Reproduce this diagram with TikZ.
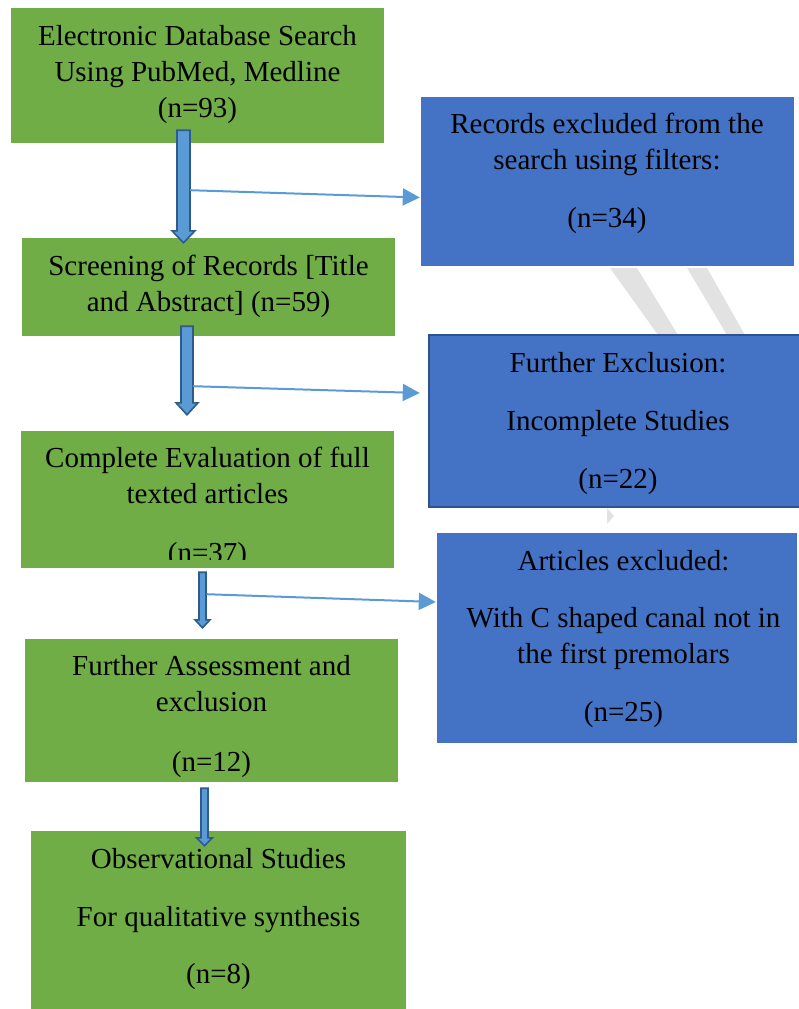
\documentclass[tikz,border=0pt]{standalone}
\usepackage{fontspec}
\setmainfont{Liberation Serif}
\usetikzlibrary{calc,arrows.meta}

\definecolor{inclgreen}{HTML}{70AD47}
\definecolor{exclblue}{HTML}{4472C4}
\definecolor{exclline}{HTML}{2F528F}
\definecolor{arrfill}{HTML}{5B9BD5}
\definecolor{arrline}{HTML}{2E5A8C}
\definecolor{wmark}{HTML}{E2E2E2}

% block arrow: top, tip, shaft half width, head half width, head length
\newcommand{\blockarr}[5]{%
  \filldraw[barrow] ($(#1)+(-#3,0)$) -- ($(#2)+(-#3,-#5)$) -- ($(#2)+(-#4,-#5)$) -- (#2)
    -- ($(#2)+(#4,-#5)$) -- ($(#2)+(#3,-#5)$) -- ($(#1)+(#3,0)$) -- cycle;}

\begin{document}
\begin{tikzpicture}[x=1pt,y=-1pt,
  incl/.style={fill=inclgreen,draw=none,inner sep=0,minimum width=#1},
  excl/.style={fill=exclblue,draw=none,inner sep=0,minimum width=#1},
  txt/.style={anchor=north,inner sep=0,align=center,font=\fontsize{29}{36}\selectfont},
  barrow/.style={fill=arrfill,draw=arrline,line width=1.6pt,line join=miter},
  link/.style={draw=arrfill,line width=2pt,-{Triangle[length=17pt,width=17pt]}}]
  \useasboundingbox (0,0) rectangle (799,1009);
  \clip (0,0) rectangle (799,1009);
  % watermark
  \fill[wmark] (610,268) -- (637,268) -- (678,335) -- (658,335) -- cycle;
  \fill[wmark] (687,268) -- (707,268) -- (745,335) -- (727,335) -- cycle;
  \fill[wmark] (607,508) -- (614,516) -- (607,524) -- cycle;
  % boxes
  \node[incl=373pt,minimum height=135pt] (b1) at (197.5,75.5) {};
  \node[excl=373pt,minimum height=169pt] (b2) at (607.5,181.5) {};
  \node[incl=373pt,minimum height=98pt] (b3) at (208.5,287) {};
  \node[excl=378pt,minimum height=172pt,draw=exclline,line width=2.5pt] (b4) at (618,421) {};
  \node[incl=373pt,minimum height=137pt] (b5) at (207.5,499.5) {};
  \node[excl=360pt,minimum height=210pt] (b6) at (617,638) {};
  \node[incl=373pt,minimum height=143pt] (b7) at (211.5,710.5) {};
  \node[incl=375pt,minimum height=181pt] (b8) at (218.5,921.5) {};
  % texts
  \node[txt] (t1) at (197.5,25) {Electronic Database Search\\Using PubMed, Medline\\(n=93)};
  \node[txt] (t2) at (607,113) {Records excluded from the\\search using filters:\\[22pt](n=34)};
  \node[txt] (t3) at (208.5,255) {Screening of Records [Title\\and Abstract] (n=59)};
  \node[txt] (t4) at (618,352.5) {Further Exclusion:\\[22pt]Incomplete Studies\\[22pt](n=22)};
  \begin{scope}
    \clip (0,420) rectangle (420,559);
    \node[txt] (t5) at (207.5,447) {Complete Evaluation of full\\texted articles\\[23pt](n=37)};
  \end{scope}
  \node[txt] (t6) at (623.5,550.5) {Articles excluded:\\[21pt]With C shaped canal not in\\the first premolars\\[22pt](n=25)};
  \node[txt] (t7) at (211.5,655) {Further Assessment and\\exclusion\\[24pt](n=12)};
  \node[txt] (t8) at (218.5,848.5) {Observational Studies\\[22pt]For qualitative synthesis\\[21pt](n=8)};
  % block arrows down the left column
  \coordinate (a1top) at ($(b1.south)+(-14,-13)$);
  \coordinate (a1tip) at ($(b3.north)+(-25,5)$);
  \coordinate (a2top) at ($(b3.south)+(-21.5,-10)$);
  \coordinate (a2tip) at ($(b5.north)+(-20.5,-16)$);
  \coordinate (a3top) at ($(b5.south)+(-5,4)$);
  \coordinate (a3tip) at ($(b7.north)+(-9,-11)$);
  \coordinate (a4top) at ($(b7.south)+(-7,6)$);
  \coordinate (a4tip) at ($(b8.north)+(-14,15)$);
  \blockarr{a1top}{a1tip}{6.5}{11.5}{12}
  \blockarr{a2top}{a2tip}{6}{11}{12}
  \blockarr{a3top}{a3tip}{3.5}{7.5}{8}
  \blockarr{a4top}{a4tip}{3.5}{8}{8}
  % exclusions to the right
  \draw[link] ($(a1top)+(6.5,60)$) -- ($(b2.west)+(-1,16)$);
  \draw[link] ($(a2top)+(6,60)$) -- ($(b4.west)+(-8,-28)$);
  \draw[link] ($(a3top)+(4,22)$) -- ($(b6.west)+(-1,-36)$);
\end{tikzpicture}
\end{document}
